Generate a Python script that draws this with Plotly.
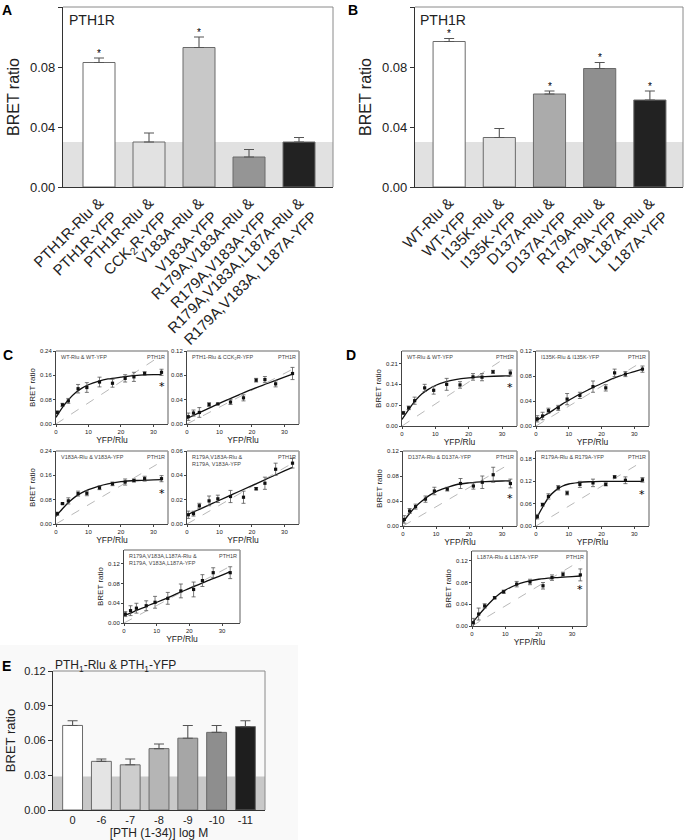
import plotly.graph_objects as go

W, H = 685, 840
FONT = "Liberation Sans"

# ---------------- Panel A data ----------------
a_labels = ["PTH1R-Rlu &<br>PTH1R-YFP", "PTH1R-Rlu &<br>CCK<sub>2</sub>R-YFP", "V183A-Rlu &<br>V183A-YFP",
            "R179A,V183A-Rlu &<br>R179A,V183A-YFP", "R179A,V183A,L187A-Rlu &<br>R179A,V183A, L187A-YFP"]
a_values = [0.083, 0.030, 0.093, 0.020, 0.030]
a_errors = [0.003, 0.006, 0.007, 0.005, 0.003]
a_sig = ["*", "", "*", "", ""]
a_colors = ["#ffffff", "#e2e2e2", "#c8c8c8", "#959595", "#222222"]

# ---------------- Panel B data ----------------
b_labels = ["WT-Rlu &<br>WT-YFP", "I135K-Rlu &<br>I135K-YFP", "D137A-Rlu &<br>D137A-YFP",
            "R179A-Rlu &<br>R179A-YFP", "L187A-Rlu &<br>L187A-YFP"]
b_values = [0.097, 0.033, 0.062, 0.079, 0.058]
b_errors = [0.002, 0.006, 0.002, 0.004, 0.006]
b_sig = ["*", "", "*", "*", "*"]
b_colors = ["#ffffff", "#e2e2e2", "#ababab", "#8f8f8f", "#222222"]

band_level = 0.030
yticks_ab = [0.00, 0.04, 0.08, 0.12]

# ---------------- Panels C / D data (saturation curves) ----------------
xfp = [0.4, 2.0, 3.8, 6.8, 9.5, 13.4, 17.4, 21.3, 24.0, 27.3, 32.5]
fit_x = [0, 2, 4, 6, 8, 10, 13, 16, 20, 25, 30, 32.5]

c1_y = [0.038, 0.063, 0.076, 0.116, 0.120, 0.138, 0.134, 0.150, 0.155, 0.166, 0.170]
c1_err = [0.005, 0.005, 0.008, 0.014, 0.016, 0.016, 0.013, 0.012, 0.015, 0.006, 0.010]
c1_fit = [0.022, 0.055, 0.082, 0.103, 0.118, 0.129, 0.140, 0.148, 0.154, 0.160, 0.162, 0.162]
c1_dash_end = 0.226

c2_y = [0.012, 0.018, 0.019, 0.032, 0.033, 0.036, 0.043, 0.072, 0.073, 0.066, 0.083]
c2_err = [0.006, 0.005, 0.008, 0.003, 0.001, 0.004, 0.005, 0.003, 0.005, 0.005, 0.010]
c2_fit = [0.009, 0.014, 0.019, 0.024, 0.029, 0.034, 0.041, 0.048, 0.057, 0.067, 0.077, 0.082]
c2_dash_end = 0.090

c3_y = [0.034, 0.067, 0.076, 0.100, 0.101, 0.119, 0.132, 0.138, 0.143, 0.149, 0.149]
c3_err = [0.005, 0.002, 0.010, 0.008, 0.008, 0.006, 0.006, 0.010, 0.005, 0.008, 0.010]
c3_fit = [0.025, 0.050, 0.072, 0.090, 0.103, 0.113, 0.124, 0.132, 0.139, 0.143, 0.145, 0.146]
c3_dash_end = 0.205

c4_y = [0.0076, 0.0085, 0.015, 0.019, 0.0207, 0.0226, 0.022, 0.029, 0.0335, 0.045, 0.050]
c4_err = [0.003, 0.002, 0.002, 0.004, 0.003, 0.005, 0.005, 0.001, 0.005, 0.005, 0.004]
c4_fit = [0.0075, 0.0099, 0.0123, 0.0147, 0.0171, 0.0195, 0.0231, 0.0267, 0.0315, 0.0376, 0.0436, 0.0466]
c4_dash_end = 0.050

c5_y = [0.018, 0.025, 0.030, 0.035, 0.042, 0.050, 0.065, 0.068, 0.086, 0.102, 0.102]
c5_err = [0.005, 0.010, 0.010, 0.010, 0.012, 0.012, 0.014, 0.015, 0.012, 0.010, 0.012]
c5_fit = [0.015, 0.020, 0.026, 0.031, 0.037, 0.042, 0.050, 0.059, 0.070, 0.084, 0.097, 0.104]
c5_dash_end = 0.115

d1_y = [0.044, 0.061, 0.085, 0.128, 0.120, 0.140, 0.138, 0.165, 0.164, 0.182, 0.178]
d1_err = [0.005, 0.006, 0.012, 0.012, 0.013, 0.020, 0.011, 0.011, 0.012, 0.005, 0.010]
d1_fit = [0.022, 0.055, 0.085, 0.108, 0.124, 0.136, 0.148, 0.156, 0.162, 0.166, 0.168, 0.168]
d1_dash_end = 0.240

d2_y = [0.0115, 0.016, 0.0245, 0.029, 0.043, 0.049, 0.063, 0.061, 0.085, 0.083, 0.091]
d2_err = [0.005, 0.006, 0.004, 0.004, 0.009, 0.005, 0.009, 0.005, 0.006, 0.004, 0.005]
d2_fit = [0.008, 0.015, 0.021, 0.028, 0.035, 0.041, 0.050, 0.058, 0.068, 0.079, 0.087, 0.091]
d2_dash_end = 0.103

d3_y = [0.0105, 0.024, 0.031, 0.043, 0.056, 0.059, 0.068, 0.064, 0.070, 0.082, 0.068]
d3_err = [0.006, 0.004, 0.004, 0.005, 0.006, 0.003, 0.008, 0.005, 0.010, 0.012, 0.007]
d3_fit = [0.006, 0.020, 0.032, 0.041, 0.049, 0.055, 0.061, 0.066, 0.069, 0.071, 0.072, 0.072]
d3_dash_end = 0.100

d4_y = [0.025, 0.057, 0.079, 0.102, 0.088, 0.111, 0.115, 0.111, 0.131, 0.122, 0.123]
d4_err = [0.006, 0.004, 0.007, 0.006, 0.005, 0.008, 0.010, 0.004, 0.003, 0.009, 0.006]
d4_fit = [0.018, 0.050, 0.078, 0.095, 0.106, 0.112, 0.116, 0.118, 0.119, 0.119, 0.119, 0.119]
d4_dash_end = 0.172

d5_y = [0.006, 0.022, 0.037, 0.052, 0.063, 0.077, 0.081, 0.074, 0.089, 0.095, 0.094]
d5_err = [0.008, 0.011, 0.004, 0.002, 0.003, 0.005, 0.005, 0.006, 0.005, 0.004, 0.011]
d5_fit = [0.005, 0.020, 0.034, 0.047, 0.058, 0.066, 0.075, 0.081, 0.086, 0.089, 0.091, 0.092]
d5_dash_end = 0.120

# ---------------- Panel E data ----------------
e_labels = ["0", "-6", "-7", "-8", "-9", "-10", "-11"]
e_values = [0.073, 0.042, 0.039, 0.053, 0.062, 0.067, 0.072]
e_errors = [0.004, 0.002, 0.005, 0.004, 0.011, 0.006, 0.005]
e_sig = ["", "**", "**", "*", "", "", ""]
e_colors = ["#ffffff", "#e4e4e4", "#cdcdcd", "#b5b5b5", "#a6a6a6", "#8e8e8e", "#1e1e1e"]
e_band = 0.029
yticks_e = [0.00, 0.03, 0.06, 0.09, 0.12]

# ======================================================================
layout = dict(width=W, height=H, margin=dict(l=0, r=0, t=0, b=0, autoexpand=False),
              paper_bgcolor="white", plot_bgcolor="rgba(0,0,0,0)", showlegend=False,
              font=dict(family=FONT, color="#222"))
shapes, annotations, traces = [], [], []


def dom(x0, x1, y0, y1):
    return [x0 / W, x1 / W], [1 - y1 / H, 1 - y0 / H]


def sfx(i):
    return "" if i == 1 else str(i)


def add_axes(i, box, xkw, ykw, fcolor, fwidth):
    xd, yd = dom(*box)
    s = sfx(i)
    layout["xaxis" + s] = dict(domain=xd, anchor="y" + s, automargin=False, **xkw)
    layout["yaxis" + s] = dict(domain=yd, anchor="x" + s, automargin=False, **ykw)
    # top and right frame lines
    shapes.append(dict(type="line", xref="paper", yref="paper", x0=xd[0], x1=xd[1], y0=yd[1], y1=yd[1],
                       line=dict(color=fcolor, width=fwidth), layer="above"))
    shapes.append(dict(type="line", xref="paper", yref="paper", x0=xd[1], x1=xd[1], y0=yd[0], y1=yd[1],
                       line=dict(color=fcolor, width=fwidth), layer="above"))


def bar_panel(i, box, labels, values, errors, sig, colors, band, band_color, yticks, xrange_,
              barw, tickfont, ytitle_size, xtickangle, xtitle=None, star_size=10, ystandoff=6, xtickfont=None):
    s = sfx(i)
    traces.append(go.Bar(x=labels, y=values, width=barw,
                         marker=dict(color=colors, line=dict(color="#6a6a6a", width=1)),
                         error_y=dict(type="data", symmetric=False, array=errors, arrayminus=[0] * len(errors),
                                      color="#555", thickness=1.1, width=5),
                         xaxis="x" + s, yaxis="y" + s))
    shapes.append(dict(type="rect", xref="x%s domain" % s, yref="y" + s, x0=0, x1=1, y0=0, y1=band,
                       fillcolor=band_color, line=dict(width=0), layer="below"))
    xkw = dict(type="category", range=xrange_, showline=True, linecolor="#333", linewidth=1.2,
               ticks="", tickangle=xtickangle, tickfont=dict(size=xtickfont or tickfont),
               showgrid=False, zeroline=False)
    if xtitle:
        xkw["title"] = dict(text=xtitle, font=dict(size=12), standoff=2)
    ykw = dict(range=[0, 0.12], tickvals=yticks, tickformat=".2f", showline=True, linecolor="#333",
               linewidth=1.2, ticks="outside", ticklen=4, tickcolor="#333", showgrid=False, zeroline=False,
               tickfont=dict(size=tickfont),
               title=dict(text="BRET ratio", font=dict(size=ytitle_size), standoff=ystandoff))
    add_axes(i, box, xkw, ykw, "#8a8a8a", 1)
    for lab, v, e, st in zip(labels, values, errors, sig):
        if st:
            annotations.append(dict(x=lab, y=v + e, xref="x" + s, yref="y" + s, text=st, showarrow=False,
                                    yanchor="bottom", yshift=-3, font=dict(size=star_size, color="#000000")))


def scatter_panel(i, box, y, err, fit, dash_end, yrange, yticks, label, show_ytitle, star=False, xmax=34.5):
    s = sfx(i)
    xa, ya = "x" + s, "y" + s
    traces.append(go.Scatter(x=[0, xfp[-1]], y=[0, dash_end], mode="lines",
                             line=dict(color="#b0b0b0", width=0.9, dash="dash"), xaxis=xa, yaxis=ya))
    traces.append(go.Scatter(x=fit_x, y=fit, mode="lines", line=dict(color="#111", width=1.3, shape="spline"),
                             xaxis=xa, yaxis=ya))
    traces.append(go.Scatter(x=xfp, y=y, mode="markers", marker=dict(symbol="square", size=3.2, color="#111"),
                             error_y=dict(type="data", array=err, color="#555", thickness=0.8, width=2),
                             xaxis=xa, yaxis=ya))
    xkw = dict(range=[0, xmax], tickvals=[0, 10, 20, 30], showline=True, linecolor="#444", linewidth=1,
               ticks="outside", ticklen=2, tickcolor="#444", tickfont=dict(size=6), showgrid=False,
               zeroline=False, title=dict(text="YFP/Rlu", font=dict(size=8.5), standoff=1))
    ykw = dict(range=yrange, tickvals=yticks, tickformat=".2f", showline=True, linecolor="#444", linewidth=1,
               ticks="outside", ticklen=2, tickcolor="#444", tickfont=dict(size=6), showgrid=False,
               zeroline=False)
    if show_ytitle:
        ykw["title"] = dict(text="BRET ratio", font=dict(size=8), standoff=3)
    add_axes(i, box, xkw, ykw, "#9a9a9a", 1.6)
    annotations.append(dict(x=0.03, y=0.985, xref="x%s domain" % s, yref="y%s domain" % s, text=label,
                            showarrow=False, xanchor="left", yanchor="top", align="left",
                            font=dict(size=5.5, color="#444")))
    annotations.append(dict(x=0.99, y=0.985, xref="x%s domain" % s, yref="y%s domain" % s, text="PTH1R",
                            showarrow=False, xanchor="right", yanchor="top", font=dict(size=5.5, color="#444")))
    if star:
        annotations.append(dict(x=xfp[-1], y=y[-1], xref=xa, yref=ya, text="*", showarrow=False,
                                yanchor="top", yshift=-6,
                                font=dict(size=11, family="DejaVu Sans", color="#000000")))


# Background of panel E
shapes.append(dict(type="rect", xref="paper", yref="paper", x0=0, x1=298 / W, y0=0, y1=1 - 645 / H,
                   fillcolor="#f9f9f9", line=dict(width=0), layer="below"))

bar_panel(1, (63, 333, 7, 187), a_labels, a_values, a_errors, a_sig, a_colors, band_level, "#e1e1e1",
          yticks_ab, [-0.72, 4.68], 0.64, 13, 16, -45, xtickfont=15)
bar_panel(2, (415, 683, 7, 187), b_labels, b_values, b_errors, b_sig, b_colors, band_level, "#e1e1e1",
          yticks_ab, [-0.68, 4.66], 0.64, 13, 16, -45, xtickfont=15)

t_c = [0, 0.08, 0.16, 0.24]
scatter_panel(3, (56, 168, 351, 424), c1_y, c1_err, c1_fit, c1_dash_end, [0, 0.24], t_c,
              "WT-Rlu & WT-YFP", True, star=True)
scatter_panel(4, (187, 299, 351, 424), c2_y, c2_err, c2_fit, c2_dash_end, [0, 0.12], [0, 0.04, 0.08, 0.12],
              "PTH1-Rlu & CCK<sub>2</sub>R-YFP", False)
scatter_panel(5, (56, 168, 451, 524), c3_y, c3_err, c3_fit, c3_dash_end, [0, 0.24], t_c,
              "V183A-Rlu & V183A-YFP", True, star=True)
scatter_panel(6, (187, 299, 451, 524), c4_y, c4_err, c4_fit, c4_dash_end, [0, 0.06], [0, 0.02, 0.04, 0.06],
              "R179A,V183A-Rlu &<br>R179A, V183A-YFP", False)
scatter_panel(7, (124, 240, 550, 623), c5_y, c5_err, c5_fit, c5_dash_end, [0, 0.148], [0, 0.04, 0.08, 0.12],
              "R179A,V183A,L187A-Rlu &<br>R179A, V183A,L187A-YFP", True, xmax=35.5)

scatter_panel(8, (402, 517, 351, 426), d1_y, d1_err, d1_fit, d1_dash_end, [0, 0.252], [0, 0.07, 0.14, 0.21],
              "WT-Rlu & WT-YFP", True, star=True)
scatter_panel(9, (536, 649, 351, 426), d2_y, d2_err, d2_fit, d2_dash_end, [0, 0.12], [0, 0.04, 0.08, 0.12],
              "I135K-Rlu & I135K-YFP", False)
scatter_panel(10, (403, 517, 451, 526), d3_y, d3_err, d3_fit, d3_dash_end, [0, 0.12], [0, 0.04, 0.08, 0.12],
              "D137A-Rlu & D137A-YFP", True, star=True)
scatter_panel(11, (536, 649, 451, 526), d4_y, d4_err, d4_fit, d4_dash_end, [0, 0.2], [0, 0.06, 0.12, 0.18],
              "R179A-Rlu & R179A-YFP", False, star=True)
scatter_panel(12, (472, 587, 551, 626), d5_y, d5_err, d5_fit, d5_dash_end, [0, 0.138], [0, 0.04, 0.08, 0.12],
              "L187A-Rlu & L187A-YFP", True, star=True)

bar_panel(13, (53, 265, 671, 810), e_labels, e_values, e_errors, e_sig, e_colors, e_band, "#c8c8c8",
          yticks_e, [-0.68, 6.68], 0.69, 11, 13, 0, xtitle="[PTH (1-34)] log M", star_size=9, ystandoff=5)

# Titles
annotations.append(dict(x=53 / W, y=1 - 656 / H, xref="paper", yref="paper", text="PTH<sub>1</sub>-Rlu & PTH<sub>1</sub>-YFP",
                        showarrow=False, xanchor="left", yanchor="top", font=dict(size=12)))
annotations.append(dict(x=67 / W, y=1 - 10 / H, xref="paper", yref="paper", text="PTH1R",
                        showarrow=False, xanchor="left", yanchor="top", font=dict(size=14)))
annotations.append(dict(x=418 / W, y=1 - 10 / H, xref="paper", yref="paper", text="PTH1R",
                        showarrow=False, xanchor="left", yanchor="top", font=dict(size=14)))

# Panel letters
for letter, px, py in [("A", 0, 0), ("B", 346, 0), ("C", 1, 345), ("D", 344, 345), ("E", 0, 656)]:
    annotations.append(dict(x=px / W, y=1 - py / H, xref="paper", yref="paper", text="<b>%s</b>" % letter,
                            showarrow=False, xanchor="left", yanchor="top", font=dict(size=14, color="#000")))

layout["shapes"] = shapes
layout["annotations"] = annotations
fig = go.Figure(data=traces, layout=layout)
fig.write_html("out.html", config={"displayModeBar": False},
               post_script="document.body.style.margin='0';document.documentElement.style.overflow='hidden';")
